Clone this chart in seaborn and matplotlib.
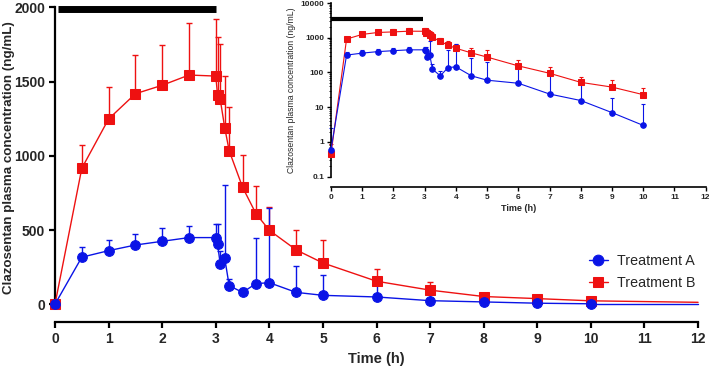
import numpy as np
import pandas as pd
import matplotlib
matplotlib.use("Agg")
import matplotlib.pyplot as plt
from matplotlib.ticker import LogLocator, FixedLocator, FuncFormatter, NullFormatter
import seaborn as sns

# sampling times (h)
time = [0, 0.5, 1, 1.5, 2, 2.5, 3, 3.033, 3.083, 3.167, 3.25, 3.5, 3.75, 4, 4.5, 5, 6, 7, 8, 9, 10]

# mean concentrations (ng/mL)
conc_a = [0.6, 317, 361, 399, 424, 449, 449, 404, 272, 310, 125, 80, 139, 145, 80, 60, 49, 24, 15.6, 7, 3]
conc_b = [0.45, 916, 1248, 1418, 1475, 1544, 1537, 1410, 1380, 1189, 1034, 788, 610, 498, 366, 278, 155, 95, 52, 38, 23]

# upper end of error bars
upper_a = [2.5, 384, 433, 473, 512, 527, 539, 539, 361, 803, 170, 108, 444, 650, 260, 195, 150, 95, 50, 19, 12]
upper_b = [0.9, 1071, 1463, 1679, 1744, 1892, 1921, 1802, 1751, 1539, 1327, 1008, 799, 657, 500, 433, 236, 148, 76, 60, 35]

# tail of the curves beyond the last sample (main panel only)
tail_time = [10, 12]
tail_a = [3, 3]
tail_b = [23, 13]

infusion = [0.05, 3]

sns.set_theme(style="white")
plt.rcParams['font.family'] = ['Liberation Sans', 'DejaVu Sans']

df = pd.DataFrame({
    "time": time * 2,
    "conc": conc_a + conc_b,
    "upper": upper_a + upper_b,
    "group": ["Treatment A"] * len(time) + ["Treatment B"] * len(time),
})

colors = {"Treatment A": "#0a14e6", "Treatment B": "#ee1111"}
markers = {"Treatment A": "o", "Treatment B": "s"}

fig = plt.figure(figsize=(7.09, 3.67), dpi=100)
ax = fig.add_axes([0.0776, 0.171, 0.907, 0.809])


def draw(ax, ms, lw, cap, elw, main):
    for g in ["Treatment B", "Treatment A"]:
        d = df[df.group == g]
        c = colors[g]
        ax.errorbar(d.time, d.conc, yerr=[np.zeros(len(d)), d.upper - d.conc],
                    fmt="none", ecolor=c, elinewidth=elw, capsize=cap,
                    capthick=elw, clip_on=False, zorder=2)
        sns.lineplot(data=d, x="time", y="conc", color=c, marker=markers[g],
                     markersize=ms, markeredgecolor=c, linewidth=lw, ax=ax,
                     label=g, clip_on=False, zorder=3, estimator=None)
        if main:
            t = tail_a if g == "Treatment A" else tail_b
            ax.plot(tail_time, t, color=c, linewidth=lw, clip_on=False, zorder=3)


draw(ax, 7, 1.0, 2.5, 1.0, True)
ax.plot(infusion, [1990, 1990], color="black", linewidth=5, solid_capstyle="butt", clip_on=False)

ax.set_xlim(0, 12)
ax.set_ylim(0, 2000)
ax.set_xticks(range(0, 13))
ax.set_yticks([0, 500, 1000, 1500, 2000])
for s in ["top", "right"]:
    ax.spines[s].set_visible(False)
for s in ["left", "bottom"]:
    ax.spines[s].set_linewidth(1.6)
    ax.spines[s].set_color("black")
ax.spines["bottom"].set_position(("outward", 13))
ax.spines["bottom"].set_bounds(0, 12)
ax.spines["left"].set_bounds(0, 2000)
ax.tick_params(axis="both", direction="out", length=4, width=1.6, color="black",
               labelsize=10, pad=3, left=True, bottom=True)
for lab in ax.get_xticklabels() + ax.get_yticklabels():
    lab.set_fontweight("bold")
ax.set_xlabel("Time (h)", fontsize=10.5, fontweight="bold", labelpad=4)
ax.set_ylabel("Clazosentan plasma concentration (ng/mL)", fontsize=9.6,
              fontweight="bold")
ax.yaxis.set_label_coords(-0.063, 0.495)

h, l = ax.get_legend_handles_labels()
order = [l.index("Treatment A"), l.index("Treatment B")]
ax.legend([h[i] for i in order], [l[i] for i in order], loc="upper left",
          bbox_to_anchor=(0.83, 0.17), frameon=False, fontsize=10.3,
          handlelength=1.35, handletextpad=0.65, labelspacing=0.55,
          borderaxespad=0, borderpad=0, markerscale=1.1)

# inset on log scale
ins = fig.add_axes([0.4668, 0.5185, 0.5285, 0.4733])
draw(ins, 4, 0.8, 1.5, 0.8, False)
ins.plot([0, 2.95], [3450, 3450], color="black", linewidth=3, solid_capstyle="butt", clip_on=False)
ins.set_yscale("log")
ins.set_xlim(0, 12)
ins.set_ylim(0.1, 10000)
ins.set_xticks(range(0, 13))
ins.yaxis.set_major_locator(FixedLocator([0.1, 1, 10, 100, 1000, 10000]))
ins.yaxis.set_major_formatter(FuncFormatter(lambda v, p: f"{v:g}"))
ins.yaxis.set_minor_locator(LogLocator(base=10, subs=np.arange(2, 10)))
ins.yaxis.set_minor_formatter(NullFormatter())
for s in ["top", "right"]:
    ins.spines[s].set_visible(False)
for s in ["left", "bottom"]:
    ins.spines[s].set_linewidth(1.2)
    ins.spines[s].set_color("black")
ins.spines["bottom"].set_position(("outward", 7.5))
ins.spines["bottom"].set_bounds(0, 12)
ins.tick_params(axis="both", which="major", direction="out", length=3, width=1.0,
                color="black", labelsize=6, pad=2, left=True, bottom=True)
ins.tick_params(axis="y", which="minor", direction="out", length=1.5, width=0.6,
                color="black", left=True)
for lab in ins.get_xticklabels() + ins.get_yticklabels():
    lab.set_fontweight("bold")
ins.set_xlabel("Time (h)", fontsize=6.5, fontweight="bold", labelpad=2)
ins.set_ylabel("Clazosentan plasma concentration (ng/mL)", fontsize=6.2, labelpad=3)
ins.get_legend().remove()
ins.patch.set_alpha(0)

fig.savefig("out.png", dpi=100)
